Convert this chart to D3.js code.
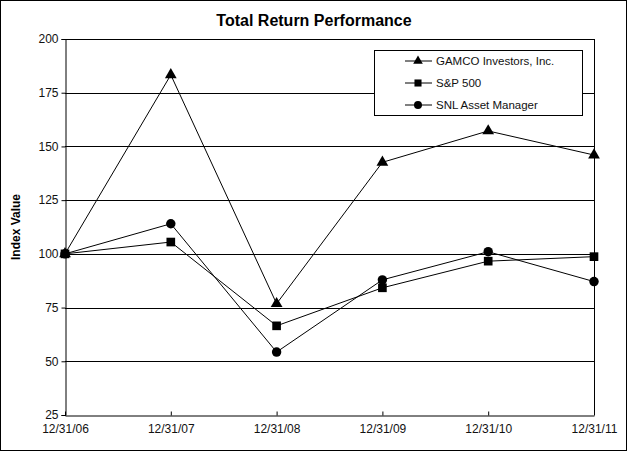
<!DOCTYPE html>
<html><head><meta charset="utf-8">
<script src="https://cdn.jsdelivr.net/npm/d3@7"></script>
<style>body{margin:0;background:#fff}svg{display:block}text{font-family:Arial,"Liberation Sans",sans-serif}</style>
</head><body><svg id="c" width="627" height="451"></svg>
<script>
const categories = ["12/31/06","12/31/07","12/31/08","12/31/09","12/31/10","12/31/11"];
const gamco = [100, 183.3, 76.8, 142.6, 157.2, 146.0];
const sp500 = [100, 105.5, 66.5, 84.2, 96.6, 98.7];
const snl = [100, 114.0, 54.3, 87.9, 101.0, 87.1];
const seriesNames = ["GAMCO Investors, Inc.", "S&P 500", "SNL Asset Manager"];
const yTicks = [25, 50, 75, 100, 125, 150, 175, 200];

const svg = d3.select("#c");
const W = 627, H = 451;
const L = 65, R = 594, T = 39, B = 415;
svg.append("rect").attr("x",0.5).attr("y",0.5).attr("width",W-1).attr("height",H-1).attr("fill","#fff").attr("stroke","#000");

const x = d3.scalePoint().domain(categories).range([L, R]);
const y = d3.scaleLinear().domain([25, 200]).range([B, T]);

// gridlines
svg.append("g").selectAll("line").data(yTicks.filter(d=>d>25)).join("line")
  .attr("x1",L).attr("x2",R).attr("y1",d=>Math.round(y(d))+0.5).attr("y2",d=>Math.round(y(d))+0.5)
  .attr("stroke","#000").attr("stroke-width",1);
// right border
svg.append("line").attr("x1",R+0.5).attr("x2",R+0.5).attr("y1",T).attr("y2",B).attr("stroke","#000");

// y axis
const ya = svg.append("g").attr("transform",`translate(${L+0.5},0)`)
  .call(d3.axisLeft(y).tickValues(yTicks).tickSize(4).tickPadding(3).tickFormat(d3.format("d")));
ya.select(".domain").attr("stroke","#000");
ya.selectAll("text").attr("font-size",12).attr("fill","#111");
// x axis
const xa = svg.append("g").attr("transform",`translate(0,${B+0.5})`)
  .call(d3.axisBottom(x).tickSizeInner(-5).tickSizeOuter(0).tickPadding(9));
xa.select(".domain").attr("stroke","#000");
xa.selectAll(".tick line").attr("y1",-4).attr("y2",0);
xa.selectAll("text").attr("font-size",12).attr("fill","#111");

// title
svg.append("text").attr("x",314).attr("y",26).attr("text-anchor","middle")
  .attr("font-size",16).attr("font-weight","bold").text("Total Return Performance");
svg.append("text").attr("transform","translate(20,227) rotate(-90)").attr("text-anchor","middle")
  .attr("font-size",12).attr("font-weight","bold").text("Index Value");

const line = d3.line().x((d,i)=>x(categories[i])).y(d=>y(d));
const data = [gamco, sp500, snl];
const syms = [d3.symbolTriangle, d3.symbolSquare, d3.symbolCircle];
const sizes = [60, 75, 70];
data.forEach((s,k)=>{
  svg.append("path").datum(s).attr("d",line).attr("fill","none").attr("stroke","#000").attr("stroke-width",1);
  svg.append("g").selectAll("path").data(s).join("path")
    .attr("transform",(d,i)=>`translate(${x(categories[i])},${y(d)})`)
    .attr("d",d3.symbol(syms[k],sizes[k])).attr("fill","#000");
});

// legend
const lg = svg.append("g");
lg.append("rect").attr("x",374.5).attr("y",50.5).attr("width",208).attr("height",65).attr("fill","#fff").attr("stroke","#000");
seriesNames.forEach((n,k)=>{
  const yy = 61 + k*22;
  lg.append("line").attr("x1",405).attr("x2",432).attr("y1",yy).attr("y2",yy).attr("stroke","#000");
  lg.append("path").attr("transform",`translate(418,${yy})`).attr("d",d3.symbol(syms[k],k==0?40:50)).attr("fill","#000");
  lg.append("text").attr("x",436).attr("y",yy+4).attr("font-size",11.5).attr("fill","#111").text(n);
});
</script></body></html>
